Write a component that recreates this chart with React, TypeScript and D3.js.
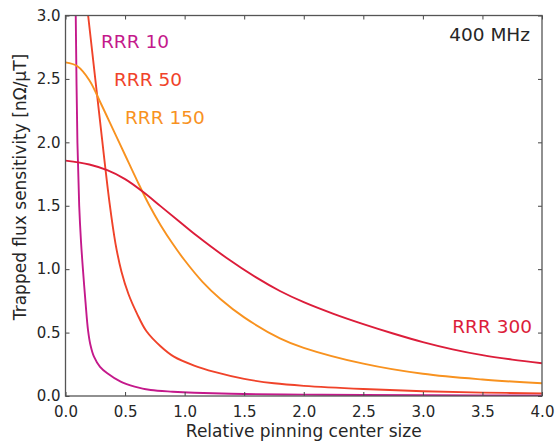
import React, { useRef, useEffect } from "react";
import * as d3 from "d3";

// values (x = relative pinning center size)
const rrr10X = [0.086, 0.1, 0.115, 0.13, 0.147, 0.168, 0.189, 0.21, 0.239, 0.29, 0.351, 0.463, 0.58, 0.715, 0.9, 1.08, 1.5, 2.0, 2.5, 3.0, 3.5, 4.0];
const rrr10Y = [3.0, 2.0, 1.5, 1.22, 0.99, 0.74, 0.52, 0.4, 0.31, 0.23, 0.179, 0.113, 0.074, 0.047, 0.034, 0.026, 0.016, 0.011, 0.008, 0.006, 0.005, 0.004];

const rrr50X = [0.19, 0.28, 0.37, 0.42, 0.47, 0.53, 0.6, 0.68, 0.8, 0.91, 1.08, 1.25, 1.5, 1.75, 2.0, 2.5, 3.0, 3.5, 4.0];
const rrr50Y = [3.0, 2.25, 1.52, 1.2, 0.98, 0.8, 0.65, 0.51, 0.39, 0.31, 0.24, 0.19, 0.135, 0.1, 0.08, 0.055, 0.037, 0.027, 0.021];

const rrr150X = [0, 0.1, 0.2, 0.3, 0.4, 0.5, 0.6, 0.7, 0.8, 0.9, 1.0, 1.15, 1.3, 1.5, 1.8, 2.0, 2.5, 3.0, 3.5, 4.0];
const rrr150Y = [2.63, 2.6, 2.49, 2.3, 2.1, 1.9, 1.7, 1.51, 1.345, 1.2, 1.07, 0.9, 0.765, 0.62, 0.455, 0.38, 0.255, 0.175, 0.13, 0.1];

const rrr300X = [0, 0.2, 0.35, 0.5, 0.65, 0.8, 0.95, 1.1, 1.35, 1.6, 1.8, 2.0, 2.25, 2.5, 2.75, 3.0, 3.25, 3.5, 3.75, 4.0];
const rrr300Y = [1.856, 1.825, 1.78, 1.71, 1.61, 1.495, 1.38, 1.265, 1.09, 0.935, 0.828, 0.74, 0.648, 0.567, 0.493, 0.425, 0.368, 0.322, 0.287, 0.258];

const seriesNames = ["RRR 10", "RRR 50", "RRR 150", "RRR 300"];
const seriesColors = ["#c4198b", "#f0432a", "#f8921f", "#dc1d3a"];

const xTicks = [0, 0.5, 1, 1.5, 2, 2.5, 3, 3.5, 4];
const yTicks = [0, 0.5, 1, 1.5, 2, 2.5, 3];

const App = () => {
  const svgRef = useRef<SVGSVGElement>(null);

  useEffect(() => {
    const width = 556;
    const height = 441;
    const margin = { top: 15.5, right: 14, bottom: 45, left: 65.5 };
    const svg = d3.select(svgRef.current);
    svg.selectAll("*").remove();

    const xScale = d3
      .scaleLinear()
      .domain([0, 4])
      .range([margin.left, width - margin.right]);
    const yScale = d3
      .scaleLinear()
      .domain([0, 3])
      .range([height - margin.bottom, margin.top]);

    const font = "DejaVu Sans, sans-serif";

    svg
      .append("defs")
      .append("clipPath")
      .attr("id", "plot-clip")
      .append("rect")
      .attr("x", xScale(0))
      .attr("y", yScale(3))
      .attr("width", xScale(4) - xScale(0))
      .attr("height", yScale(0) - yScale(3));

    const allX = [rrr10X, rrr50X, rrr150X, rrr300X];
    const allY = [rrr10Y, rrr50Y, rrr150Y, rrr300Y];

    const line = d3
      .line<[number, number]>()
      .x((d) => xScale(d[0]))
      .y((d) => yScale(d[1]))
      .curve(d3.curveCatmullRom.alpha(0.5));

    const lines = svg.append("g").attr("clip-path", "url(#plot-clip)");
    allX.forEach((xs, i) => {
      const pts = xs.map((x, j) => [x, allY[i][j]] as [number, number]);
      lines
        .append("path")
        .attr("d", line(pts))
        .attr("fill", "none")
        .attr("stroke", seriesColors[i])
        .attr("stroke-width", 1.9);
    });

    const styleAxis = (g) => {
      g.select(".domain").remove();
      g.selectAll("line").attr("stroke", "#444").attr("stroke-width", 1);
      g.selectAll("text")
        .attr("font-family", font)
        .attr("font-size", 15)
        .attr("fill", "#262626");
    };

    svg
      .append("g")
      .attr("transform", `translate(0,${yScale(0)})`)
      .call(d3.axisBottom(xScale).tickValues(xTicks).tickFormat(d3.format(".1f")).tickSize(-4).tickPadding(10))
      .call(styleAxis);
    svg
      .append("g")
      .attr("transform", `translate(0,${yScale(3)})`)
      .call(d3.axisTop(xScale).tickValues(xTicks).tickFormat(() => "").tickSize(-4))
      .call(styleAxis);
    svg
      .append("g")
      .attr("transform", `translate(${xScale(0)},0)`)
      .call(d3.axisLeft(yScale).tickValues(yTicks).tickFormat(d3.format(".1f")).tickSize(-4).tickPadding(5))
      .call(styleAxis);
    svg
      .append("g")
      .attr("transform", `translate(${xScale(4)},0)`)
      .call(d3.axisRight(yScale).tickValues(yTicks).tickFormat(() => "").tickSize(-4))
      .call(styleAxis);

    // frame
    svg
      .append("rect")
      .attr("x", xScale(0))
      .attr("y", yScale(3))
      .attr("width", xScale(4) - xScale(0))
      .attr("height", yScale(0) - yScale(3))
      .attr("fill", "none")
      .attr("stroke", "#555")
      .attr("stroke-width", 1.3);

    // axis titles
    svg
      .append("text")
      .attr("x", (xScale(0) + xScale(4)) / 2)
      .attr("y", 437)
      .attr("text-anchor", "middle")
      .attr("font-family", font)
      .attr("font-size", 17)
      .attr("fill", "#262626")
      .text("Relative pinning center size");
    svg
      .append("text")
      .attr("transform", "translate(26,187) rotate(-90)")
      .attr("text-anchor", "middle")
      .attr("font-family", font)
      .attr("font-size", 17)
      .attr("fill", "#262626")
      .text("Trapped flux sensitivity [nΩ/μT]");

    svg
      .append("text")
      .attr("x", 530)
      .attr("y", 41)
      .attr("text-anchor", "end")
      .attr("font-family", font)
      .attr("font-size", 18.5)
      .attr("fill", "#262626")
      .text("400 MHz");

    // series labels
    const labelPos = [
      { x: 101, y: 48, anchor: "start" },
      { x: 114, y: 86, anchor: "start" },
      { x: 125, y: 124, anchor: "start" },
      { x: 532, y: 333, anchor: "end" },
    ];
    labelPos.forEach((p, i) => {
      svg
        .append("text")
        .attr("x", p.x)
        .attr("y", p.y)
        .attr("text-anchor", p.anchor)
        .attr("font-family", font)
        .attr("font-size", 18.5)
        .attr("fill", seriesColors[i])
        .text(seriesNames[i]);
    });
  }, []);

  return (
    <div style={{ position: "fixed", top: 0, left: 0 }}>
      <svg ref={svgRef} width={556} height={441} style={{ display: "block", background: "#fff" }}></svg>
    </div>
  );
};

export default App;
